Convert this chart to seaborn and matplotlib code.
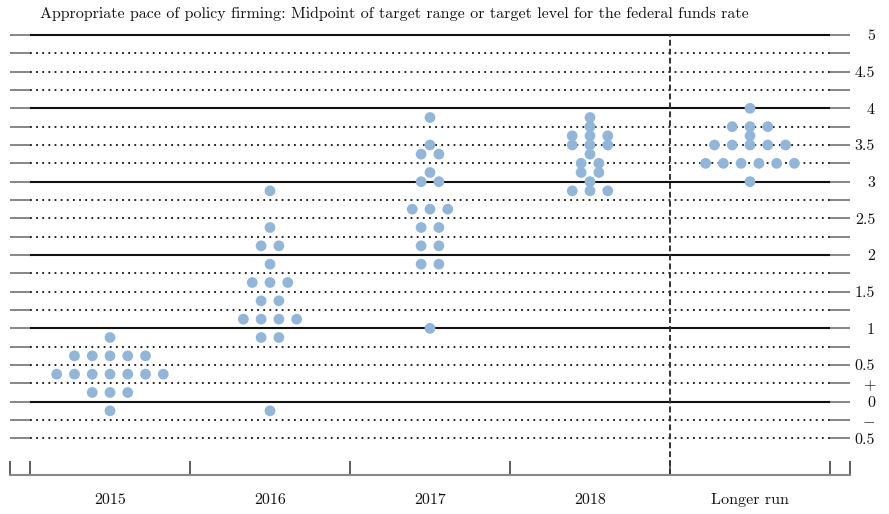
import numpy as np
import pandas as pd
import matplotlib
matplotlib.use("Agg")
import matplotlib.pyplot as plt
import seaborn as sns

# ---------------- data ----------------
categories = ["2015", "2016", "2017", "2018", "Longer run"]

levels_2015 = [0.875, 0.625, 0.375, 0.125, -0.125]
counts_2015 = [1, 5, 7, 3, 1]

levels_2016 = [2.875, 2.375, 2.125, 1.875, 1.625, 1.375, 1.125, 0.875, -0.125]
counts_2016 = [1, 1, 2, 1, 3, 2, 4, 2, 1]

levels_2017 = [3.875, 3.5, 3.375, 3.125, 3.0, 2.625, 2.375, 2.125, 1.875, 1.0]
counts_2017 = [1, 1, 2, 1, 2, 3, 2, 2, 2, 1]

levels_2018 = [3.875, 3.75, 3.625, 3.5, 3.375, 3.25, 3.125, 3.0, 2.875]
counts_2018 = [1, 1, 3, 3, 1, 2, 2, 1, 3]

levels_lr = [4.0, 3.75, 3.625, 3.5, 3.25, 3.0]
counts_lr = [1, 3, 1, 5, 6, 1]

ytick_values = [5, 4.75, 4.5, 4.25, 4, 3.75, 3.5, 3.25, 3, 2.75, 2.5, 2.25, 2,
                1.75, 1.5, 1.25, 1, 0.75, 0.5, 0.25, 0, -0.25, -0.5]
ytick_labels = ["5", "", "4.5", "", "4", "", "3.5", "", "3", "", "2.5", "", "2",
                "", "1.5", "", "1", "", "0.5", "+", "0", r"$-$", "0.5"]

title = ("Appropriate pace of policy firming: Midpoint of target range or "
         "target level for the federal funds rate")

# ---------------- build table ----------------
dot_spacing = 0.111
columns = [(levels_2015, counts_2015), (levels_2016, counts_2016),
           (levels_2017, counts_2017), (levels_2018, counts_2018),
           (levels_lr, counts_lr)]
rows = []
for ci, (levs, cnts) in enumerate(columns):
    for lev, n in zip(levs, cnts):
        offs = (np.arange(n) - (n - 1) / 2) * dot_spacing
        for o in offs:
            rows.append({"x": ci + o, "rate": lev, "cat": categories[ci]})
df = pd.DataFrame(rows)

# ---------------- style ----------------
sns.set_style("white")
plt.rcParams["font.family"] = ["cmr10", "DejaVu Serif"]
plt.rcParams["mathtext.fontset"] = "cm"
plt.rcParams["axes.unicode_minus"] = False

W, H = 889, 514
fig = plt.figure(figsize=(W / 100, H / 100), dpi=100)
ax = fig.add_axes([10 / W, 1 - 475 / H, 840 / W, 440 / H])
ax.set_xlim(-0.625, 4.625)
ax.set_ylim(-1.0, 5.0)

# grid lines
for v in ytick_values:
    if abs(v - round(v)) < 1e-9:
        ax.hlines(v, -0.5, 4.5, colors="#111111", linewidth=1.5,
                  zorder=1, clip_on=False)
    else:
        ax.hlines(v, -0.5, 4.5, colors="#111111", linewidth=1.3,
                  linestyles=(0, (1, 2.4)), zorder=1, clip_on=False)

# separator
ax.axvline(3.5, color="#333333", linewidth=1.4, linestyle=(0, (3, 1.6)),
           zorder=1, clip_on=False)

# dots
sns.scatterplot(data=df, x="x", y="rate", ax=ax, color="#93b5d8", s=60,
                edgecolor="none", linewidth=0, zorder=3, legend=False)

# y ticks (both sides, inward)
ax.set_yticks(ytick_values)
ax.set_yticklabels(ytick_labels)
ax.tick_params(axis="y", which="major", direction="in", length=14.4,
               width=1.1, color="#666666", left=True, right=True,
               labelleft=False, labelright=True, pad=18, labelsize=11.5,
               labelcolor="#111111")
for tick in ax.yaxis.get_major_ticks():
    tick.tick1line.set_color("#333333")
    tick.tick2line.set_color("#777777")
for t in ax.get_yticklabels():
    t.set_horizontalalignment("right")

# x ticks
ax.set_xticks([-0.625, -0.5, 0.5, 1.5, 2.5, 3.5, 4.5, 4.625])
ax.set_xticklabels([])
ax.set_xticks([0, 1, 2, 3, 4], minor=True)
ax.set_xticklabels(categories, minor=True)
ax.tick_params(axis="x", which="major", direction="in", length=10,
               width=1.1, color="#333333", bottom=True)
ax.tick_params(axis="x", which="minor", length=0, pad=13, labelsize=11.5,
               labelcolor="#111111")
ax.set_xlabel("")
ax.set_ylabel("")

for side in ["top", "left", "right"]:
    ax.spines[side].set_visible(False)
ax.spines["bottom"].set_color("#888888")
ax.spines["bottom"].set_linewidth(1.5)

fig.text(40 / W, 1 - 14 / H, title, ha="left", va="center",
         fontsize=11.5, color="#111111")

fig.savefig("out.png", dpi=100)
